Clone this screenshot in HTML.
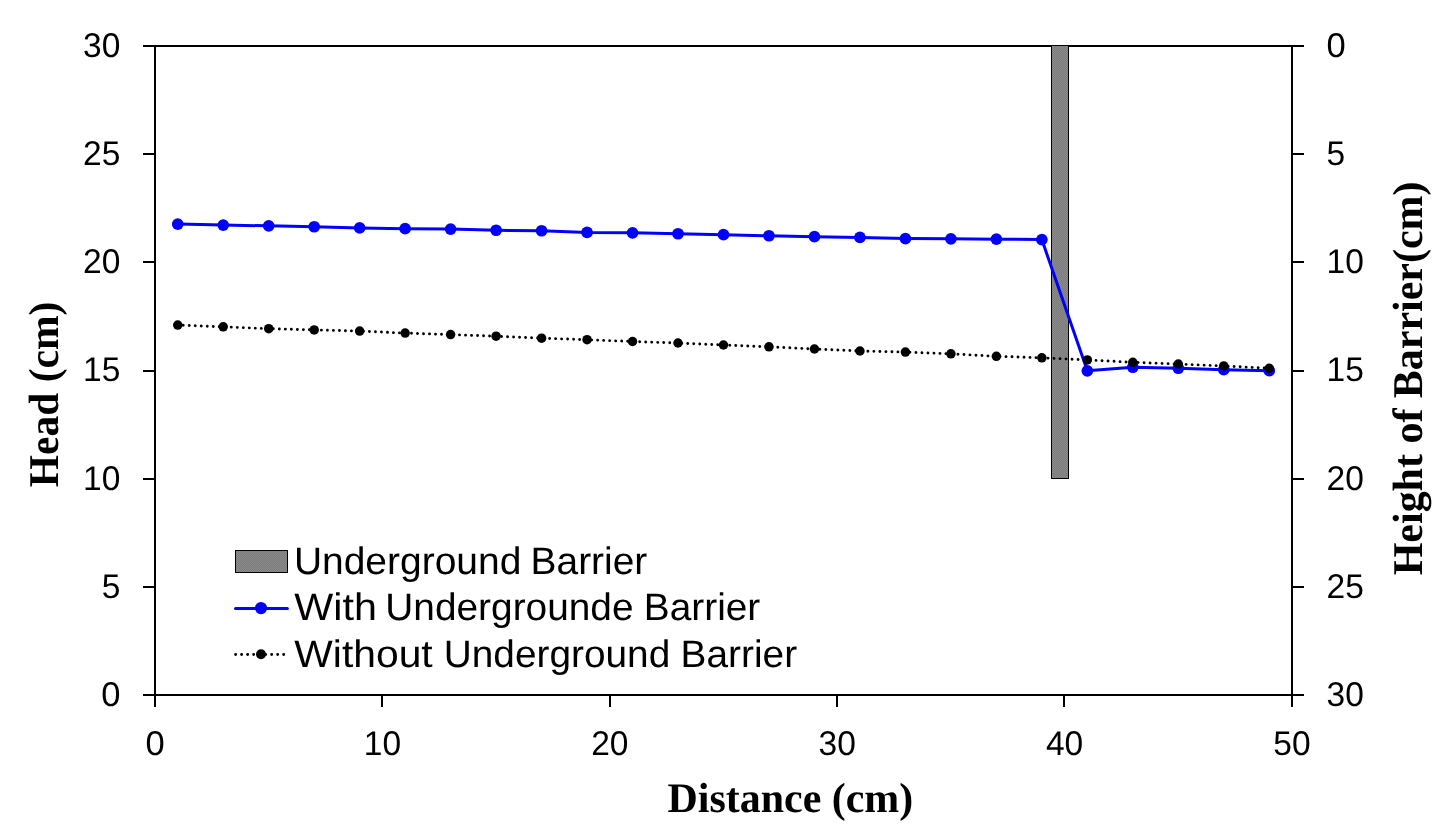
<!DOCTYPE html>
<html lang="en"><head><meta charset="utf-8"><title>Head vs Distance</title>
<style>html,body{margin:0;padding:0;background:#fff;}body{width:1450px;height:838px;overflow:hidden;}svg{display:block;will-change:transform;text-rendering:geometricPrecision;}.t{font-family:"Liberation Sans",sans-serif;fill:#000;}.s{font-family:"Liberation Serif",serif;font-weight:bold;fill:#000;}</style></head><body>
<svg width="1450" height="838" viewBox="0 0 1450 838">
<defs><pattern id="ck" width="2" height="2" patternUnits="userSpaceOnUse"><rect width="2" height="2" fill="#7c7c7c"/><rect width="1" height="1" fill="#8a8a8a"/><rect x="1" y="1" width="1" height="1" fill="#8a8a8a"/></pattern></defs>
<rect x="0" y="0" width="1450" height="838" fill="#ffffff"/>
<g fill="#000" shape-rendering="crispEdges">
<rect x="143" y="45" width="1161" height="2"/>
<rect x="143" y="694" width="1161" height="2"/>
<rect x="154" y="45" width="2" height="662"/>
<rect x="1291" y="45" width="2" height="662"/>
<rect x="143" y="586" width="12" height="2"/>
<rect x="1292" y="586" width="12" height="2"/>
<rect x="143" y="478" width="12" height="2"/>
<rect x="1292" y="478" width="12" height="2"/>
<rect x="143" y="370" width="12" height="2"/>
<rect x="1292" y="370" width="12" height="2"/>
<rect x="143" y="261" width="12" height="2"/>
<rect x="1292" y="261" width="12" height="2"/>
<rect x="143" y="153" width="12" height="2"/>
<rect x="1292" y="153" width="12" height="2"/>
<rect x="381" y="695" width="2" height="12"/>
<rect x="609" y="695" width="2" height="12"/>
<rect x="836" y="695" width="2" height="12"/>
<rect x="1063" y="695" width="2" height="12"/>
</g>
<rect x="1051.5" y="45.5" width="17" height="433" fill="url(#ck)" stroke="#000" stroke-width="1" shape-rendering="crispEdges"/>
<polyline points="177.74,224.10 223.22,225.05 268.70,225.85 314.18,226.75 359.66,227.95 405.14,228.65 450.62,229.05 496.10,230.25 541.58,230.75 587.06,232.45 632.54,232.85 678.02,233.75 723.50,234.65 768.98,235.75 814.46,236.65 859.94,237.45 905.42,238.55 950.90,238.85 996.38,239.15 1041.86,239.61 1087.34,370.85 1132.82,367.25 1178.30,368.25 1223.78,369.65 1269.26,370.65" fill="none" stroke="#0000ff" stroke-width="3.0" stroke-linejoin="round"/>
<g fill="#0000ff">
<circle cx="177.74" cy="224.10" r="5.85"/>
<circle cx="223.22" cy="225.05" r="5.85"/>
<circle cx="268.70" cy="225.85" r="5.85"/>
<circle cx="314.18" cy="226.75" r="5.85"/>
<circle cx="359.66" cy="227.95" r="5.85"/>
<circle cx="405.14" cy="228.65" r="5.85"/>
<circle cx="450.62" cy="229.05" r="5.85"/>
<circle cx="496.10" cy="230.25" r="5.85"/>
<circle cx="541.58" cy="230.75" r="5.85"/>
<circle cx="587.06" cy="232.45" r="5.85"/>
<circle cx="632.54" cy="232.85" r="5.85"/>
<circle cx="678.02" cy="233.75" r="5.85"/>
<circle cx="723.50" cy="234.65" r="5.85"/>
<circle cx="768.98" cy="235.75" r="5.85"/>
<circle cx="814.46" cy="236.65" r="5.85"/>
<circle cx="859.94" cy="237.45" r="5.85"/>
<circle cx="905.42" cy="238.55" r="5.85"/>
<circle cx="950.90" cy="238.85" r="5.85"/>
<circle cx="996.38" cy="239.15" r="5.85"/>
<circle cx="1041.86" cy="239.61" r="5.85"/>
<circle cx="1087.34" cy="370.85" r="5.85"/>
<circle cx="1132.82" cy="367.25" r="5.85"/>
<circle cx="1178.30" cy="368.25" r="5.85"/>
<circle cx="1223.78" cy="369.65" r="5.85"/>
<circle cx="1269.26" cy="370.65" r="5.85"/>
</g>
<polyline points="177.74,325.10 223.22,326.80 268.70,328.70 314.18,329.90 359.66,331.10 405.14,333.10 450.62,334.60 496.10,336.20 541.58,338.20 587.06,339.70 632.54,341.50 678.02,343.00 723.50,345.00 768.98,346.80 814.46,349.00 859.94,351.00 905.42,352.10 950.90,353.80 996.38,356.30 1041.86,357.80 1087.34,359.90 1132.82,362.30 1178.30,364.00 1223.78,365.90 1269.26,368.30" fill="none" stroke="#000" stroke-width="2.9" stroke-dasharray="0.01 6" stroke-dashoffset="0.5" stroke-linecap="round"/>
<g fill="#000">
<circle cx="177.74" cy="325.10" r="4.75"/>
<circle cx="223.22" cy="326.80" r="4.75"/>
<circle cx="268.70" cy="328.70" r="4.75"/>
<circle cx="314.18" cy="329.90" r="4.75"/>
<circle cx="359.66" cy="331.10" r="4.75"/>
<circle cx="405.14" cy="333.10" r="4.75"/>
<circle cx="450.62" cy="334.60" r="4.75"/>
<circle cx="496.10" cy="336.20" r="4.75"/>
<circle cx="541.58" cy="338.20" r="4.75"/>
<circle cx="587.06" cy="339.70" r="4.75"/>
<circle cx="632.54" cy="341.50" r="4.75"/>
<circle cx="678.02" cy="343.00" r="4.75"/>
<circle cx="723.50" cy="345.00" r="4.75"/>
<circle cx="768.98" cy="346.80" r="4.75"/>
<circle cx="814.46" cy="349.00" r="4.75"/>
<circle cx="859.94" cy="351.00" r="4.75"/>
<circle cx="905.42" cy="352.10" r="4.75"/>
<circle cx="950.90" cy="353.80" r="4.75"/>
<circle cx="996.38" cy="356.30" r="4.75"/>
<circle cx="1041.86" cy="357.80" r="4.75"/>
<circle cx="1087.34" cy="359.90" r="4.75"/>
<circle cx="1132.82" cy="362.30" r="4.75"/>
<circle cx="1178.30" cy="364.00" r="4.75"/>
<circle cx="1223.78" cy="365.90" r="4.75"/>
<circle cx="1269.26" cy="368.30" r="4.75"/>
</g>
<g class="t" font-size="34.3">
<text x="120.4" y="705.9" text-anchor="end" textLength="19.2" lengthAdjust="spacingAndGlyphs">0</text>
<text x="1326.6" y="705.9" textLength="37.3" lengthAdjust="spacingAndGlyphs">30</text>
<text x="120.4" y="597.7" text-anchor="end" textLength="18.65" lengthAdjust="spacingAndGlyphs">5</text>
<text x="1326.6" y="597.7" textLength="37.3" lengthAdjust="spacingAndGlyphs">25</text>
<text x="120.4" y="489.6" text-anchor="end" textLength="37.3" lengthAdjust="spacingAndGlyphs">10</text>
<text x="1326.6" y="489.6" textLength="37.3" lengthAdjust="spacingAndGlyphs">20</text>
<text x="120.4" y="381.4" text-anchor="end" textLength="37.3" lengthAdjust="spacingAndGlyphs">15</text>
<text x="1326.6" y="381.4" textLength="37.3" lengthAdjust="spacingAndGlyphs">15</text>
<text x="120.4" y="273.2" text-anchor="end" textLength="37.3" lengthAdjust="spacingAndGlyphs">20</text>
<text x="1326.6" y="273.2" textLength="37.3" lengthAdjust="spacingAndGlyphs">10</text>
<text x="120.4" y="165.1" text-anchor="end" textLength="37.3" lengthAdjust="spacingAndGlyphs">25</text>
<text x="1326.6" y="165.1" textLength="18.65" lengthAdjust="spacingAndGlyphs">5</text>
<text x="120.4" y="56.9" text-anchor="end" textLength="37.3" lengthAdjust="spacingAndGlyphs">30</text>
<text x="1326.6" y="56.9" textLength="19.2" lengthAdjust="spacingAndGlyphs">0</text>
<text x="155.0" y="754.7" text-anchor="middle" textLength="19.2" lengthAdjust="spacingAndGlyphs">0</text>
<text x="382.4" y="754.7" text-anchor="middle" textLength="37.3" lengthAdjust="spacingAndGlyphs">10</text>
<text x="609.8" y="754.7" text-anchor="middle" textLength="37.3" lengthAdjust="spacingAndGlyphs">20</text>
<text x="837.2" y="754.7" text-anchor="middle" textLength="37.3" lengthAdjust="spacingAndGlyphs">30</text>
<text x="1064.6" y="754.7" text-anchor="middle" textLength="37.3" lengthAdjust="spacingAndGlyphs">40</text>
<text x="1292.0" y="754.7" text-anchor="middle" textLength="37.3" lengthAdjust="spacingAndGlyphs">50</text>
</g>
<rect x="235.5" y="550.5" width="52" height="22" fill="url(#ck)" stroke="#000" stroke-width="1"/>
<line x1="235.5" y1="608.4" x2="287.4" y2="608.4" stroke="#0000ff" stroke-width="3.0" stroke-linecap="round"/><circle cx="261" cy="608.1" r="6.15" fill="#0000ff"/>
<line x1="235.6" y1="654.5" x2="284" y2="654.5" stroke="#000" stroke-width="2.9" stroke-dasharray="0.01 6" stroke-linecap="round"/><circle cx="261" cy="654.3" r="5.0" fill="#000"/>
<g class="t" font-size="38.35">
<text y="574"><tspan x="293.92" textLength="227.43" lengthAdjust="spacingAndGlyphs">Underground</tspan> <tspan x="530.56" textLength="116.75" lengthAdjust="spacingAndGlyphs">Barrier</tspan></text>
<text y="620"><tspan x="294.35" textLength="82.62" lengthAdjust="spacingAndGlyphs">With</tspan> <tspan x="385.31" textLength="248.25" lengthAdjust="spacingAndGlyphs">Undergrounde</tspan> <tspan x="643.89" textLength="116.42" lengthAdjust="spacingAndGlyphs">Barrier</tspan></text>
<text y="667"><tspan x="294.36" textLength="138.31" lengthAdjust="spacingAndGlyphs">Without</tspan> <tspan x="443.75" textLength="226.48" lengthAdjust="spacingAndGlyphs">Underground</tspan> <tspan x="680.63" textLength="116.47" lengthAdjust="spacingAndGlyphs">Barrier</tspan></text>
</g>
<g class="s" font-size="42.4">
<text x="790.4" y="812.3" font-size="42.1" text-anchor="middle" textLength="245.6" lengthAdjust="spacingAndGlyphs">Distance (cm)</text>
<text transform="translate(58,394.4) rotate(-90)" text-anchor="middle" textLength="185.6" lengthAdjust="spacingAndGlyphs">Head (cm)</text>
<text transform="translate(1422.2,378.4) rotate(-90)" text-anchor="middle" textLength="393.8" lengthAdjust="spacingAndGlyphs">Height of Barrier(cm)</text>
</g>
</svg></body></html>
